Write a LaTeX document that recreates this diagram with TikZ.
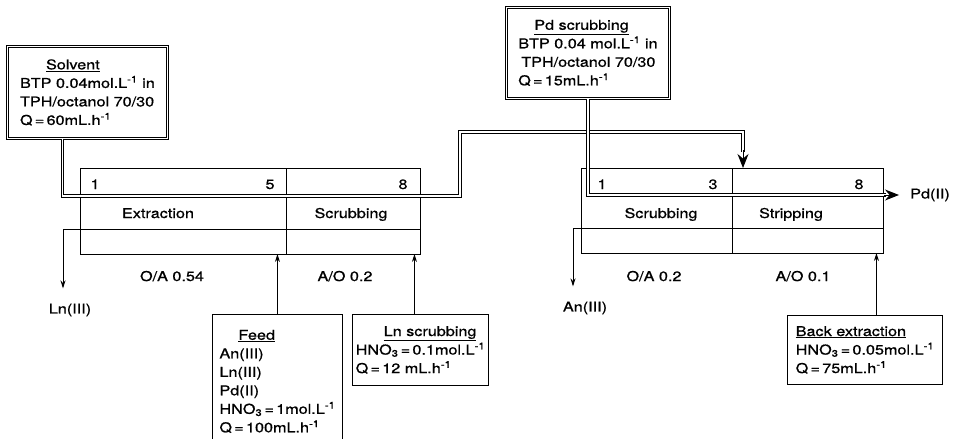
\documentclass[tikz,border=0pt]{standalone}
\usepackage{fontspec}
\setmainfont{TeX Gyre Heros}[FakeStretch=1.2, FakeBold=0.8]
\usetikzlibrary{arrows.meta,calc}

\tikzset{
    txt/.style = {font=\fontsize{13.5}{18.5}\selectfont},
    box/.style = {txt, draw, line width=0.9pt, anchor=north west, align=left, inner sep=0pt},
    dbox/.style = {box, double, double distance=1.6pt, line width=0.9pt},
    battery/.style = {draw, line width=1pt, anchor=north west, inner sep=0pt},
    lbl/.style = {txt, inner sep=0pt, anchor=base},
    orgflow/.style = {double, double distance=1.5pt, line width=1pt},
    aqflow/.style = {line width=0.9pt, -{Stealth[length=8pt,width=5pt]}},
    bigtip/.style = {line width=1pt, -{Stealth[length=14pt,width=11pt]}}
}

\begin{document}
\begin{tikzpicture}[x=1pt, y=-1pt]
    \path[use as bounding box, clip] (0,0) rectangle (953,439);

    \node[dbox, minimum width=160pt, minimum height=92pt] (solvent) at (7,46)
        {\hspace*{26pt}\underline{Solvent}\\
         BTP 0.04mol.L\textsuperscript{-1} in\\
         TPH/octanol 70/30\\
         Q\,=\,60mL.h\textsuperscript{-1}};
    \node[dbox, minimum width=163pt, minimum height=91pt] (pdscrub) at (506,7)
        {\hspace*{16pt}\underline{Pd scrubbing}\\
         BTP 0.04 mol.L\textsuperscript{-1} in\\
         \hspace*{3pt}TPH/octanol 70/30\\
         Q\,=\,15mL.h\textsuperscript{-1}};

    \node[box, minimum width=130pt, minimum height=134pt] (feed) at (212,314)
        {\hspace*{19pt}\underline{Feed}\\
         An(III)\\
         Ln(III)\\
         Pd(II)\\
         HNO\textsubscript{3}\,=\,1mol.L\textsuperscript{-1}\\
         Q\,=\,100mL.h\textsuperscript{-1}};
    \node[box, minimum width=136pt, minimum height=71pt] (lnscrub) at (352,314)
        {\hspace*{28pt}\underline{Ln scrubbing}\\
         HNO\textsubscript{3}\,=\,0.1mol.L\textsuperscript{-1}\\
         Q\,=\,12 mL.h\textsuperscript{-1}};
    \node[box, minimum width=155pt, minimum height=69pt] (backex) at (787,315)
        {\underline{Back extraction}\\
         HNO\textsubscript{3}\,=\,0.05mol.L\textsuperscript{-1}\\
         Q\,=\,75mL.h\textsuperscript{-1}};

    % the two batteries
    \node[battery, minimum width=340pt, minimum height=86pt] (bat1) at (80,168) {};
    \node[battery, minimum width=302pt, minimum height=85pt] (bat2) at (581,168) {};
    \draw[line width=0.9pt] ([xshift=206pt]bat1.north west) -- ([xshift=206pt]bat1.south west);
    \draw[line width=0.9pt] ([xshift=151pt]bat2.north west) -- ([xshift=151pt]bat2.south west);

    \node[lbl] (st1a) at (95,189) {1};
    \node[lbl] (st5a) at (270,189) {5};
    \node[lbl] (st8a) at (403,189) {8};
    \node[lbl] (st1b) at (602,189) {1};
    \node[lbl] (st3b) at (713,189) {3};
    \node[lbl] (st8b) at (859,189) {8};

    \node[lbl] (extr) at (158,218) {Extraction};
    \node[lbl] (scrub1) at (351,218) {Scrubbing};
    \node[lbl] (scrub2) at (661,218) {Scrubbing};
    \node[lbl] (strip) at (791,218) {Stripping};

    \node[lbl] (ratio1) at (172,281) {O/A 0.54};
    \node[lbl] (ratio2) at (345,281) {A/O 0.2};
    \node[lbl] (ratio3) at (654,281) {O/A 0.2};
    \node[lbl] (ratio4) at (803,281) {A/O 0.1};

    \node[lbl, anchor=center] (lnout) at (70,310) {Ln(III)};
    \node[lbl, anchor=center] (anout) at (585,308) {An(III)};
    \node[lbl, anchor=west] (pdout) at (910,195) {Pd(II)};

    % organic phase
    \coordinate (up1) at (460,196);
    \coordinate (over1) at (743,132);
    \draw[orgflow] ([xshift=-25pt]solvent.south) |- (up1) |- (over1) -- ($(over1)+(0,20)$);
    \draw[bigtip] ($(over1)+(0,18)$) -- ($(over1)+(0,36)$);
    \draw[orgflow] (pdscrub.south) |- ($(pdout.west)+(-24,0)$);
    \draw[bigtip] ($(pdout.west)+(-26,0)$) -- ($(pdout.west)+(-11,0)$);

    % aqueous phase
    \draw[aqflow, shorten >=15pt] ([yshift=26pt]bat1.south east) -| ([xshift=-7pt]lnout.north);
    \draw[aqflow, shorten >=15pt] ([yshift=26pt]bat2.south east) -| ([xshift=-12pt]anout.north);
    \draw[aqflow] (feed.north) -- ++(0,-60);
    \draw[aqflow] ([xshift=-6pt]lnscrub.north) -- ++(0,-60);
    \draw[aqflow] ([xshift=11.5pt]backex.north) -- ++(0,-62);

\end{tikzpicture}
\end{document}
